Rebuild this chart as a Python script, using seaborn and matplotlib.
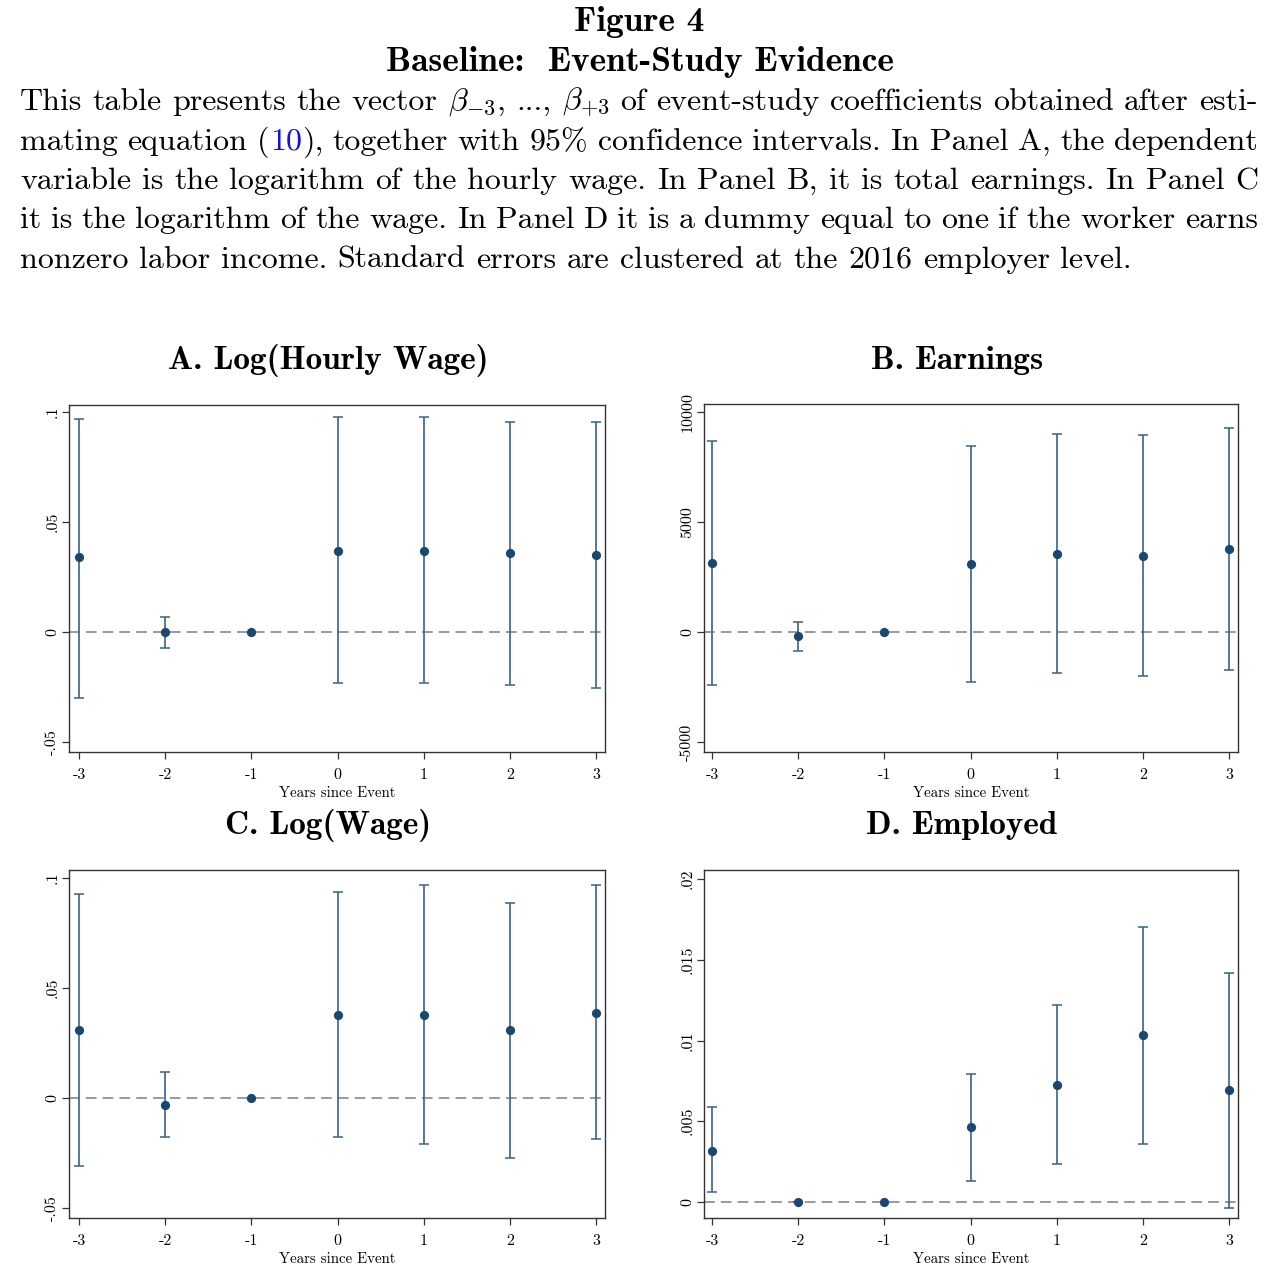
import numpy as np
import pandas as pd
import seaborn as sns
import matplotlib
matplotlib.use("Agg")
import matplotlib.pyplot as plt

# event-study estimates
years = [-3, -2, -1, 0, 1, 2, 3]

hw_coef = [0.034, 0.0, 0.0, 0.037, 0.037, 0.036, 0.035]
hw_lo = [-0.030, -0.0073, 0.0, -0.0232, -0.0232, -0.0241, -0.0255]
hw_hi = [0.0968, 0.0068, 0.0, 0.0977, 0.0977, 0.0955, 0.0955]

earn_coef = [3130, -180, 0, 3090, 3550, 3460, 3780]
earn_lo = [-2410, -860, 0, -2270, -1870, -2000, -1730]
earn_hi = [8680, 455, 0, 8460, 9000, 8950, 9270]

w_coef = [0.0309, -0.0032, 0.0, 0.0377, 0.0377, 0.0309, 0.0386]
w_lo = [-0.0309, -0.0177, 0.0, -0.0177, -0.0209, -0.0273, -0.0186]
w_hi = [0.0927, 0.0118, 0.0, 0.0936, 0.0968, 0.0886, 0.0968]

emp_coef = [0.00316, 0.0, 0.0, 0.00464, 0.00724, 0.01034, 0.00693]
emp_lo = [0.00062, 0.0, 0.0, 0.0013, 0.00235, 0.0036, -0.00037]
emp_hi = [0.00588, 0.0, 0.0, 0.00793, 0.0122, 0.0170, 0.0142]

has_ci = [True, True, False, True, True, True, True]

panel_titles = ["A. Log(Hourly Wage)", "B. Earnings", "C. Log(Wage)", "D. Employed"]
yticks_a = [-0.05, 0, 0.05, 0.1]
ytick_labels_a = ["-.05", "0", ".05", ".1"]
yticks_b = [-5000, 0, 5000, 10000]
ytick_labels_b = ["-5000", "0", "5000", "10000"]
yticks_d = [0, 0.005, 0.01, 0.015, 0.02]
ytick_labels_d = ["0", ".005", ".01", ".015", ".02"]

sns.set_theme(style="ticks")
plt.rcParams["font.family"] = ["cmr10", "DejaVu Serif"]
plt.rcParams["mathtext.fontset"] = "cm"
plt.rcParams["axes.unicode_minus"] = False
for k in ["text.color", "axes.labelcolor", "xtick.labelcolor", "ytick.labelcolor"]:
    plt.rcParams[k] = "black"

W, H = 1274, 1278
fig = plt.figure(figsize=(W / 100, H / 100), dpi=100)

navy = "#1a476f"
barcol = "#3a6188"

def make_panel(rect, coef, lo, hi, yticks, ylabels, ylim, xlim):
    ax = fig.add_axes(rect)
    df = pd.DataFrame({"year": years, "coef": coef, "lo": lo, "hi": hi, "ci": has_ci})
    ax.axhline(0, color="#7f7f7f", lw=1.1, dashes=(7, 4), zorder=1)
    d = df[df["ci"]]
    ax.errorbar(d["year"], d["coef"], yerr=[d["coef"] - d["lo"], d["hi"] - d["coef"]],
                fmt="none", ecolor=barcol, elinewidth=1.2, capsize=3.5, capthick=1.1, zorder=2)
    sns.scatterplot(data=df, x="year", y="coef", ax=ax, color=navy, s=44,
                    edgecolor=navy, linewidth=0, zorder=3, legend=False)
    ax.set_xlim(xlim)
    ax.set_ylim(ylim)
    ax.set_xticks(years)
    ax.set_xticklabels([str(v) for v in years])
    ax.set_yticks(yticks)
    ax.set_yticklabels(ylabels, rotation=90, va="center")
    ax.tick_params(axis="both", labelsize=11.5, length=5, width=0.9, color="#333333")
    ax.tick_params(axis="x", pad=7)
    ax.tick_params(axis="y", pad=2)
    ax.set_xlabel("Years since Event", fontsize=10.7, labelpad=3)
    ax.set_ylabel("")
    for s in ax.spines.values():
        s.set_color("#333333")
        s.set_linewidth(1.0)
    return ax

def r(l, t, r_, b):
    return [l / W, 1 - b / H, (r_ - l) / W, (b - t) / H]

xl_a = (-3.116, 3.104)
xl_b = (-3.093, 3.104)
make_panel(r(69, 405, 605, 752), hw_coef, hw_lo, hw_hi, yticks_a, ytick_labels_a, (-0.0545, 0.1032), xl_a)
make_panel(r(704, 404, 1238, 752), earn_coef, earn_lo, earn_hi, yticks_b, ytick_labels_b, (-5455, 10364), xl_b)
make_panel(r(69, 870, 605, 1218), w_coef, w_lo, w_hi, yticks_a, ytick_labels_a, (-0.0545, 0.1036), xl_a)
make_panel(r(704, 870, 1238, 1218), emp_coef, emp_lo, emp_hi, yticks_d, ytick_labels_d, (-0.00099, 0.02056), xl_b)

# panel titles
bold = ["cmb10", "DejaVu Serif"]
for txt, (x, y) in zip(panel_titles, [(328, 360), (957, 360), (328, 826), (962, 826)]):
    fig.text(x / W, 1 - y / H, txt, ha="center", va="center", fontsize=24, family=bold, color="black")

# header
fig.text(639 / W, 1 - 22 / H, "Figure 4", ha="center", va="center", fontsize=25.5, family=bold, color="black")
fig.text(640 / W, 1 - 62 / H, "Baseline:  Event-Study Evidence", ha="center", va="center", fontsize=25.5,
         family=bold, color="black")

# caption, justified line by line
blue = "#1010e0"
cap_lines = [
    "This table presents the vector $\\beta_{-3}$, ..., $\\beta_{+3}$ of event-study coefficients obtained after esti-",
    "mating equation (|10|), together with 95% confidence intervals. In Panel A, the dependent",
    "variable is the logarithm of the hourly wage. In Panel B, it is total earnings. In Panel C",
    "it is the logarithm of the wage. In Panel D it is a dummy equal to one if the worker earns",
    "nonzero labor income. Standard errors are clustered at the 2016 employer level.",
]
cap_y = [110, 150, 189, 228, 268]
cap_size = 23
fig.canvas.draw()
rend = fig.canvas.get_renderer()

def piece_width(s, color):
    t = fig.text(0, 0, s, fontsize=cap_size, color=color)
    w = t.get_window_extent(rend).width
    t.remove()
    return w

x0, x1 = 20, 1258
for i, (line, y) in enumerate(zip(cap_lines, cap_y)):
    words = []
    for w in line.split(" "):
        parts = w.split("|")
        words.append([(p, blue if k % 2 == 1 else "black") for k, p in enumerate(parts) if p])
    widths = [[piece_width(p, c) for p, c in wd] for wd in words]
    total = sum(sum(ws) for ws in widths)
    if i < len(cap_lines) - 1:
        gap = (x1 - x0 - total) / (len(words) - 1)
    else:
        gap = 0.33 * cap_size * 100 / 72
    x = x0
    for wd, ws in zip(words, widths):
        for (p, c), pw in zip(wd, ws):
            fig.text(x / W, 1 - y / H, p, fontsize=cap_size, color=c, ha="left", va="baseline")
            x += pw
        x += gap

fig.savefig("out.png", dpi=100)
